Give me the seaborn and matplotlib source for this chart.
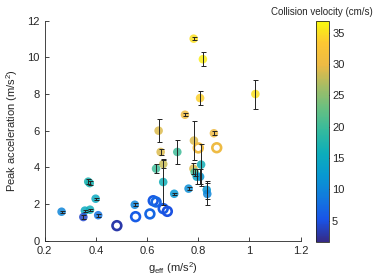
import numpy as np
import pandas as pd
import matplotlib
matplotlib.use("Agg")
import matplotlib.pyplot as plt
import seaborn as sns
from matplotlib.colors import LinearSegmentedColormap, Normalize
from matplotlib.cm import ScalarMappable

# filled points with error bars
g_eff = [0.266, 0.370, 0.376, 0.399, 0.357, 0.377, 0.351, 0.409, 0.552, 0.663,
         0.663, 0.653, 0.635, 0.718, 0.706, 0.762, 0.811, 0.781, 0.786, 0.794,
         0.807, 0.833, 0.835, 0.748, 0.783, 0.861, 0.782, 0.818, 0.807, 1.023,
         0.645]
peak_acc = [1.58, 3.22, 3.14, 2.29, 1.64, 1.69, 1.29, 1.39, 1.96, 3.20,
            4.18, 4.84, 3.93, 4.84, 2.56, 2.84, 4.15, 3.93, 3.73, 3.49,
            3.49, 2.77, 2.55, 6.87, 5.46, 5.86, 11.02, 9.90, 7.78, 8.00,
            6.00]
acc_err = [0.05, 0.15, 0.10, 0.05, 0.05, 0.05, 0.10, 0.08, 0.08, 1.25,
           0.20, 0.15, 0.25, 0.64, 0.05, 0.08, 1.15, 0.30, 0.20, 0.40,
           0.40, 0.50, 0.60, 0.08, 1.07, 0.10, 0.08, 0.37, 0.40, 0.79,
           0.64]
velocity = [10, 17, 17, 15, 15, 16, 4, 8, 10, 16,
            28, 29, 20, 20, 12, 11, 16, 29, 20, 14,
            12, 12, 10, 30, 29, 30, 35, 36, 34, 35,
            29]

# open rings, no error bars
ring_g = [0.482, 0.555, 0.611, 0.624, 0.635, 0.663, 0.679, 0.800, 0.872]
ring_acc = [0.82, 1.31, 1.46, 2.18, 2.11, 1.75, 1.60, 5.06, 5.07]
ring_vel = [3, 6, 7, 6, 7, 6, 5, 30, 30]

# parula-like colormap
parula = LinearSegmentedColormap.from_list("parula", [
    (0.0, (0.208, 0.166, 0.529)),
    (0.1, (0.100, 0.330, 0.910)),
    (0.2, (0.070, 0.480, 0.870)),
    (0.3, (0.030, 0.600, 0.820)),
    (0.4, (0.050, 0.680, 0.730)),
    (0.5, (0.200, 0.730, 0.620)),
    (0.6, (0.400, 0.750, 0.510)),
    (0.7, (0.640, 0.740, 0.400)),
    (0.8, (0.930, 0.730, 0.270)),
    (0.9, (0.990, 0.780, 0.200)),
    (1.0, (0.976, 0.983, 0.054)),
])
vmin, vmax = 1.65, 36.9
norm = Normalize(vmin, vmax)

sns.set_theme(style="white")
plt.rcParams['font.family'] = ['Liberation Sans', 'DejaVu Sans']
plt.rcParams['mathtext.fontset'] = 'custom'
plt.rcParams['mathtext.rm'] = 'Liberation Sans'
plt.rcParams['mathtext.it'] = 'Liberation Sans'

fig = plt.figure(figsize=(3.74, 2.80), dpi=100)
ax = fig.add_axes([0.1195, 0.1404, 0.6845, 0.7857])
cax = fig.add_axes([0.845, 0.137, 0.0355, 0.789])

df = pd.DataFrame({'g': g_eff, 'a': peak_acc, 'err': acc_err, 'v': velocity})
rings = pd.DataFrame({'g': ring_g, 'a': ring_acc, 'v': ring_vel})

sns.scatterplot(data=df, x='g', y='a', hue='v', palette=parula, hue_norm=norm,
                s=38, linewidth=0, alpha=0.85, legend=False, ax=ax, zorder=2)

sns.scatterplot(data=rings, x='g', y='a', hue='v', palette=parula, hue_norm=norm,
                s=40, legend=False, ax=ax, zorder=2)
ring_coll = ax.collections[-1]
ring_coll.set_edgecolors(ring_coll.get_facecolors())
ring_coll.set_facecolors('none')
ring_coll.set_linewidth(1.9)

ax.errorbar(df['g'], df['a'], yerr=df['err'], fmt='none', ecolor='#222222',
            elinewidth=0.7, capsize=1.8, capthick=0.7, zorder=3)

ax.set_xlim(0.2, 1.2)
ax.set_ylim(0, 12)
ax.set_xticks([0.2, 0.4, 0.6, 0.8, 1.0, 1.2])
ax.set_xticklabels(['0.2', '0.4', '0.6', '0.8', '1', '1.2'])
ax.set_yticks([0, 2, 4, 6, 8, 10, 12])
ax.set_xlabel(r'g$_{\rm eff}$ (m/s$^2$)', fontsize=8, color='#262626', labelpad=3)
ax.set_ylabel(r'Peak acceleration (m/s$^2$)', fontsize=8, color='#262626', labelpad=5)
ax.tick_params(direction='in', length=3, width=0.6, labelsize=8, colors='#262626',
               bottom=True, left=True)
for side in ['top', 'right']:
    ax.spines[side].set_visible(False)
for side in ['left', 'bottom']:
    ax.spines[side].set_color('#262626')
    ax.spines[side].set_linewidth(0.6)

sm = ScalarMappable(norm=norm, cmap=parula)
cb = fig.colorbar(sm, cax=cax, ticks=[5, 10, 15, 20, 25, 30, 35])
cb.outline.set_linewidth(0.6)
cb.outline.set_edgecolor('#262626')
cax.tick_params(direction='in', length=2.5, width=0.6, labelsize=8, colors='#262626', pad=2)
fig.text(322 / 374, 1 - 12 / 280, 'Collision velocity (cm/s)', fontsize=7,
         color='#262626', ha='center', va='center')

fig.savefig('out.png', dpi=100)
